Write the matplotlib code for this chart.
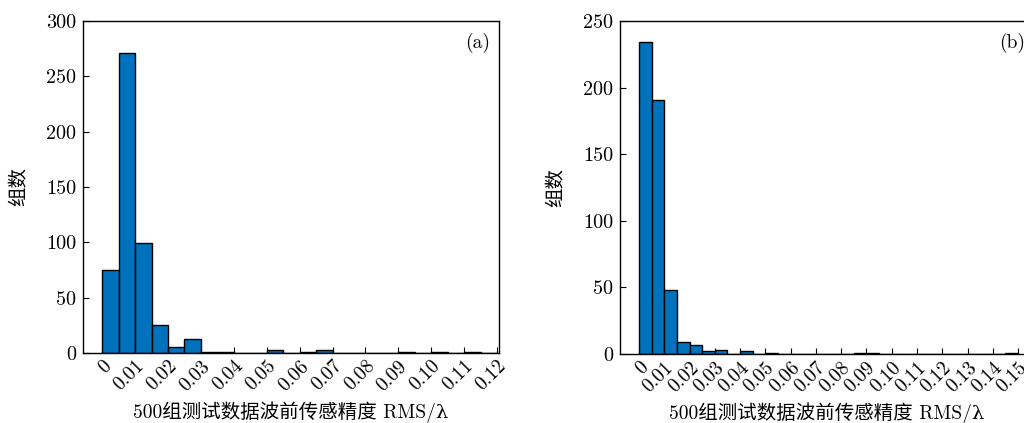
import numpy as np
import matplotlib
matplotlib.use("Agg")
import matplotlib.pyplot as plt

# 直方图数据（组宽 0.005）
bin_width = 0.005
counts_a = [75, 271, 99, 25, 5, 13, 1, 1, 0, 0, 3, 0, 1, 3, 0, 0,
            0, 0, 1, 0, 1, 0, 1, 0]
counts_b = [234, 191, 48, 9, 7, 2, 3, 0, 2, 0, 1, 0, 0, 0, 0, 0,
            0, 1, 1, 0, 0, 0, 0, 0, 0, 0, 0, 0, 0, 1]
ticks_a = ["0", "0.01", "0.02", "0.03", "0.04", "0.05", "0.06",
           "0.07", "0.08", "0.09", "0.10", "0.11", "0.12"]
ticks_b = ["0", "0.01", "0.02", "0.03", "0.04", "0.05", "0.06", "0.07",
           "0.08", "0.09", "0.10", "0.11", "0.12", "0.13", "0.14", "0.15"]
yticks_a = [0, 50, 100, 150, 200, 250, 300]
yticks_b = [0, 50, 100, 150, 200, 250]

xlabel = "500组测试数据波前传感精度 RMS/λ"
ylabel = "组数"

SERIF = ["cmr10", "DejaVu Serif", "Noto Sans CJK SC"]
plt.rcParams["font.family"] = SERIF
plt.rcParams["axes.unicode_minus"] = False
BLUE = "#0072BD"

fig = plt.figure(figsize=(10.24, 4.23), dpi=100)
ax_a = fig.add_axes([0.0811, 0.1655, 0.4063, 0.785])
ax_b = fig.add_axes([0.6055, 0.1631, 0.4043, 0.7874])


def draw(ax, counts, ticks, yticks, xlim, tag):
    counts = np.asarray(counts)
    lefts = np.arange(len(counts)) * bin_width
    ax.bar(lefts, counts, width=bin_width, align="edge", color=BLUE,
           edgecolor="black", linewidth=1.0)
    xt = np.arange(len(ticks)) * 0.01
    ax.set_xticks(xt)
    ax.set_xticklabels(ticks, rotation=45, ha="right", va="top",
                       rotation_mode="anchor", fontsize=14)
    ax.set_yticks(yticks)
    ax.set_yticklabels([str(v) for v in yticks], fontsize=14.5)
    ax.set_xlim(*xlim)
    ax.set_ylim(0, yticks[-1])
    ax.tick_params(direction="in", length=4, width=0.8, top=False, right=False)
    ax.tick_params(axis="x", pad=3)
    ax.tick_params(axis="y", pad=5)
    for s in ax.spines.values():
        s.set_linewidth(1.0)
    ax.set_xlabel(xlabel, fontsize=14, labelpad=5)
    ax.set_ylabel(ylabel, fontsize=14, family=["Noto Sans CJK SC"], labelpad=12)
    ax.text(0.978, 0.965, tag, transform=ax.transAxes, ha="right", va="top",
            fontsize=14)


draw(ax_a, counts_a, ticks_a, yticks_a, (-0.0058, 0.1206), "(a)")
draw(ax_b, counts_b, ticks_b, yticks_b, (-0.0075, 0.1563), "(b)")

fig.savefig("out.png", dpi=100)
